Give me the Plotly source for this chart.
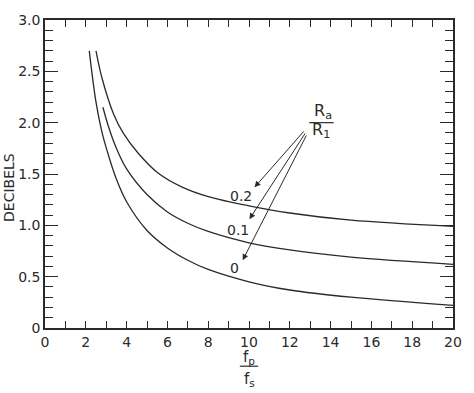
import plotly.graph_objects as go

# ---- data ----
x_r0 = [2.17, 2.5, 2.8, 3.13, 3.5, 4, 5, 6, 7, 8, 10, 12, 15, 20]
y_r0 = [2.70, 2.20, 1.90, 1.67, 1.45, 1.23, 0.95, 0.78, 0.66, 0.57, 0.45, 0.37, 0.30, 0.22]

x_r01 = [2.84, 3.13, 3.5, 4, 5, 6, 7, 8, 10, 12, 15, 20]
y_r01 = [2.15, 1.95, 1.75, 1.55, 1.30, 1.13, 1.02, 0.94, 0.83, 0.76, 0.69, 0.62]

x_r02 = [2.5, 2.8, 3.37, 3.86, 4.58, 5.54, 6.75, 8, 10, 12, 15, 20]
y_r02 = [2.70, 2.43, 2.08, 1.89, 1.70, 1.51, 1.37, 1.28, 1.19, 1.12, 1.05, 0.99]

curve_labels = ["0.2", "0.1", "0"]
label_x = [9.6, 9.45, 9.3]
label_y = [1.29, 0.95, 0.58]
arrow_head_x = [10.27, 10.02, 9.69]
arrow_head_y = [1.37, 1.06, 0.66]
arrow_tail_x = [12.75, 12.8, 12.85]
arrow_tail_y = [1.93, 1.91, 1.89]

y_tickvals = [0, 0.5, 1.0, 1.5, 2.0, 2.5, 3.0]
y_ticktext = ["0", "0.5", "1.0", "1.5", "2.0", "2.5", "3.0"]
x_tickvals = list(range(0, 21))
x_ticktext = [str(v) if v % 2 == 0 else "" for v in x_tickvals]

INK = "#2a2a2a"
FONT = "DejaVu Sans"

fig = go.Figure()
for xs, ys in [(x_r0, y_r0), (x_r01, y_r01), (x_r02, y_r02)]:
    fig.add_trace(go.Scatter(x=xs, y=ys, mode="lines",
                             line=dict(color=INK, width=1.3, shape="spline", smoothing=1.0),
                             showlegend=False, hoverinfo="skip"))
# invisible trace on the mirrored (top/right) axes so their ticks are drawn
fig.add_trace(go.Scatter(x=[x_r0[0]], y=[y_r0[0]], xaxis="x2", yaxis="y2", mode="markers",
                         marker=dict(opacity=0), showlegend=False, hoverinfo="skip"))

for t, lx, ly in zip(curve_labels, label_x, label_y):
    fig.add_annotation(x=lx, y=ly, xref="x", yref="y", text=t, showarrow=False,
                       font=dict(family=FONT, size=14, color=INK))
for hx, hy, tx, ty in zip(arrow_head_x, arrow_head_y, arrow_tail_x, arrow_tail_y):
    fig.add_annotation(x=hx, y=hy, ax=tx, ay=ty, xref="x", yref="y", axref="x", ayref="y",
                       text="", showarrow=True, arrowhead=2, arrowsize=1.2,
                       arrowwidth=1, arrowcolor=INK)
# R_a / R_1 label
fig.add_annotation(x=13.65, y=2.11, xref="x", yref="y", text="R<sub>a</sub>", showarrow=False,
                   font=dict(family=FONT, size=16, color=INK))
fig.add_annotation(x=13.55, y=1.92, xref="x", yref="y", text="R<sub>1</sub>", showarrow=False,
                   font=dict(family=FONT, size=16, color=INK))
fig.add_shape(type="line", xref="x", yref="y", x0=12.95, x1=14.15, y0=2.0, y1=2.0,
              line=dict(color=INK, width=1.2))
# axis titles
fig.add_annotation(x=0.0, y=0.5, xref="paper", yref="paper", text="DECIBELS", textangle=-90,
                   showarrow=False, xanchor="center", yanchor="middle", xshift=-36, yshift=-14,
                   font=dict(family=FONT, size=14, color=INK))
fig.add_annotation(x=10, y=0, xref="x", yref="paper", text="f<sub>p</sub>", showarrow=False,
                   yanchor="middle", yshift=-29, font=dict(family=FONT, size=15, color=INK))
fig.add_annotation(x=10, y=0, xref="x", yref="paper", text="f<sub>s</sub>", showarrow=False,
                   yanchor="middle", yshift=-51, font=dict(family=FONT, size=15, color=INK))
fig.add_shape(type="line", xref="x", yref="paper", x0=9.55, x1=10.45, y0=-0.124, y1=-0.124,
              line=dict(color=INK, width=1.2))

common_x = dict(range=[0, 20], ticks="inside", ticklen=7, tickwidth=1, tickcolor=INK,
                showline=True, linecolor=INK, linewidth=1.5,
                showgrid=False, zeroline=False)
common_y = dict(range=[0, 3.0], ticks="inside", ticklen=13, tickwidth=1, tickcolor=INK,
                tickvals=y_tickvals,
                minor=dict(dtick=0.1, tick0=0, ticks="inside", ticklen=8, tickwidth=1, tickcolor=INK),
                showline=True, linecolor=INK, linewidth=1.5,
                showgrid=False, zeroline=False)

fig.update_layout(
    width=474, height=393,
    margin=dict(l=45, r=13, t=13, b=65),
    paper_bgcolor="white", plot_bgcolor="white",
    font=dict(family=FONT, size=14, color=INK),
    xaxis=dict(common_x, tickmode="array", tickvals=x_tickvals, ticktext=x_ticktext,
               tickfont=dict(size=14)),
    yaxis=dict(common_y, ticktext=y_ticktext, tickfont=dict(size=14)),
    xaxis2=dict(common_x, overlaying="x", side="top", anchor="y", tickmode="array",
                tickvals=x_tickvals, showticklabels=False),
    yaxis2=dict(common_y, overlaying="y", side="right", anchor="x", showticklabels=False),
)

fig.write_html("out.html")
